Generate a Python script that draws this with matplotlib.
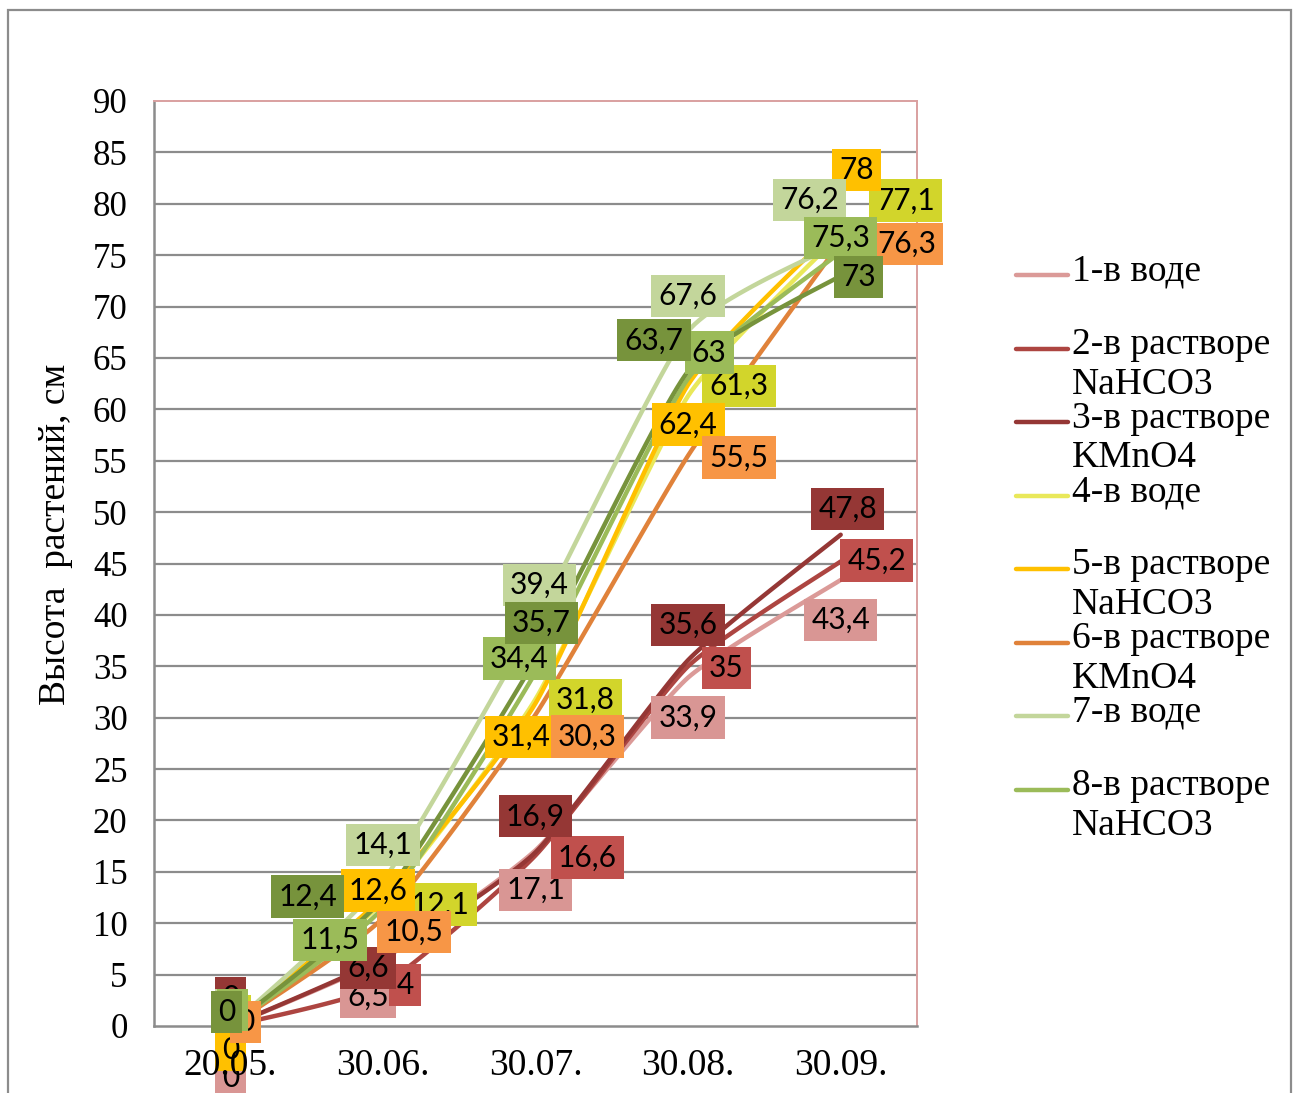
import numpy as np
import matplotlib
matplotlib.use("Agg")
import matplotlib.pyplot as plt
from matplotlib.lines import Line2D
from matplotlib.patches import Rectangle

# ---- data -------------------------------------------------------------
dates = ["20.05.", "30.06.", "30.07.", "30.08.", "30.09."]

s1_water = [0, 6.5, 17.1, 33.9, 43.4]
s2_nahco3 = [0, 4, 16.6, 35, 45.2]
s3_kmno4 = [0, 6.6, 16.9, 35.6, 47.8]
s4_water = [0, 12.1, 31.8, 61.3, 77.1]
s5_nahco3 = [0, 12.6, 31.4, 62.4, 78]
s6_kmno4 = [0, 10.5, 30.3, 55.5, 76.3]
s7_water = [0, 14.1, 39.4, 67.6, 76.2]
s8_nahco3 = [0, 11.5, 34.4, 63, 75.3]
s9_kmno4 = [0, 12.4, 35.7, 63.7, 73]

legend_names = [
    "1-в воде",
    "2-в растворе\nNaHCO3",
    "3-в растворе\nKMnO4",
    "4-в воде",
    "5-в растворе\nNaHCO3",
    "6-в растворе\nKMnO4",
    "7-в воде",
    "8-в растворе\nNaHCO3",
]

yticks = list(range(0, 91, 5))

# ---- styling ------------------------------------------------------------
series = [s1_water, s2_nahco3, s3_kmno4, s4_water, s5_nahco3,
          s6_kmno4, s7_water, s8_nahco3, s9_kmno4]
line_colors = ["#DB9A98", "#AD4541", "#953735", "#E9E85A", "#FFC000",
               "#E0823A", "#C3D69B", "#9BBB59", "#77933C"]
box_colors = ["#D99694", "#C0504D", "#953735", "#D2D52B", "#FFC000",
              "#F79646", "#C3D69B", "#9BBB59", "#77933C"]

# label offsets in pixels (dx right, dy up) for each point of each series
label_offsets = [
    [(0, -52), (-15, -38), (0, -40), (0, -40), (0, -40)],
    [(0, 26), (22, 0), (52, -2), (38, -2), (36, 1)],
    [(0, 28), (-15, -10), (0, 36), (0, 35), (7, 26)],
    [(5, 10), (57, -3), (50, -1), (51, 10), (65, 33)],
    [(0, -24), (-5, 6), (-14, -34), (0, -40), (16, 54)],
    [(15, 4), (31, -14), (52, -22), (51, -2), (66, -2)],
    [(0, 16), (0, 36), (4, 36), (0, 35), (-31, 43)],
    [(2, 16), (-53, -32), (-16, 14), (21, 26), (0, 14)],
    [(-4, 14), (-75, 2), (6, 36), (-34, 31), (18, -1)],
]


def smooth(xs, ys, k=0.09, n=30):
    """Gentle Bezier smoothing through all points."""
    p = np.column_stack([xs, ys]).astype(float)
    ext = np.vstack([p[0], p, p[-1]])
    out = []
    t = np.linspace(0, 1, n)[:, None]
    for i in range(len(p) - 1):
        p0, p1, p2, p3 = ext[i], ext[i + 1], ext[i + 2], ext[i + 3]
        c1 = p1 + (p2 - p0) * k
        c2 = p2 - (p3 - p1) * k
        seg = ((1 - t) ** 3) * p1 + 3 * ((1 - t) ** 2) * t * c1 \
            + 3 * (1 - t) * t ** 2 * c2 + t ** 3 * p2
        out.append(seg if i == 0 else seg[1:])
    out = np.vstack(out)
    return out[:, 0], out[:, 1]


W, H = 1299, 1093
fig = plt.figure(figsize=(W / 100, H / 100), dpi=100)
ax = fig.add_axes([154 / W, 1 - 1026 / H, (917 - 154) / W, (1026 - 101) / H])

serif = "Liberation Serif"
label_font = "Lato"

# horizontal gridlines
for yt in yticks[1:-1]:
    ax.axhline(yt, color="#8C8C8C", lw=1.6, zorder=1)

x = np.arange(len(dates))
for vals, lc in zip(series, line_colors):
    sx, sy = smooth(x, vals)
    ax.plot(sx, sy, color=lc, lw=3.2, solid_capstyle="round", zorder=3)

for vals, bc, offs in zip(series, box_colors, label_offsets):
    for xi, v, (dx, dy) in zip(x, vals, offs):
        txt = f"{v:g}".replace(".", ",")
        ax.annotate(txt, (xi, v), xytext=(dx, dy), textcoords="offset pixels",
                    ha="center", va="center", fontsize=21.5, family=label_font,
                    color="black", zorder=5, annotation_clip=False,
                    bbox=dict(boxstyle="square,pad=0.24", fc=bc, ec="none"))

ax.set_xlim(-0.5, len(dates) - 0.5)
ax.set_ylim(0, 90)
ax.set_yticks(yticks)
ax.set_xticks(x)
ax.set_xticklabels(dates)
ax.tick_params(axis="both", length=0)
ax.tick_params(axis="y", pad=19, labelsize=25)
ax.tick_params(axis="x", pad=16, labelsize=27)
for lab in ax.get_xticklabels() + ax.get_yticklabels():
    lab.set_family(serif)
ax.xaxis.set_zorder(7)

for side in ("left", "bottom"):
    ax.spines[side].set_color("#8C8C8C")
    ax.spines[side].set_linewidth(1.8)
    ax.spines[side].set_zorder(2)
for side in ("top", "right"):
    ax.spines[side].set_color("#D9A0A0")
    ax.spines[side].set_linewidth(1.4)
    ax.spines[side].set_zorder(2)

ax.set_ylabel("Высота  растений, см", family=serif, fontsize=27, labelpad=14)
ax.yaxis.label.set_y(0.531)

# legend drawn at the right of the plot area
leg_top = 275
step = 73.5
for i, (name, lc) in enumerate(zip(legend_names, line_colors)):
    yc = 1 - (leg_top + i * step) / H
    fig.add_artist(Line2D([1016 / W, 1068 / W], [yc, yc], color=lc, lw=3.2,
                          solid_capstyle="round"))
    fig.text(1072 / W, yc + 21 / H, name, family=serif, fontsize=27,
             ha="left", va="top", linespacing=1.2)

# outer chart frame
fig.add_artist(Rectangle((8 / W, -0.02), (1291 - 8) / W, 1 - 10 / H + 0.02,
                         transform=fig.transFigure, fill=False,
                         ec="#8C8C8C", lw=1.6))

fig.savefig("out.png", dpi=100)
